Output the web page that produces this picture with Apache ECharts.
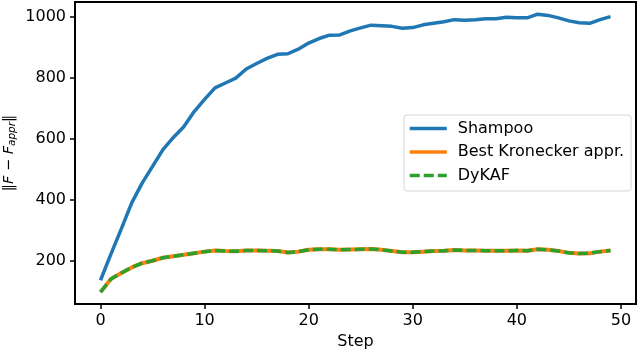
<!DOCTYPE html>
<html>
<head>
<meta charset="utf-8">
<script src="https://cdn.jsdelivr.net/npm/echarts@6/dist/echarts.min.js"></script>
<style>
  html, body { margin: 0; padding: 0; background: #fff; }
  #chart { width: 640px; height: 351px; }
</style>
</head>
<body>
<div id="chart"></div>
<script>
// steps 0..49
var steps = [];
for (var s = 0; s < 50; s++) steps.push(s);

var shampoo = [136, 222, 305, 390, 455, 510, 565, 605, 640, 690,
               730, 768, 784, 800, 830, 848, 865, 878, 880, 895,
               915, 930, 941, 942, 955, 965, 974, 972, 970, 964,
               966, 975, 980, 985, 992, 990, 992, 995, 995, 1000,
               998, 998, 1010, 1006, 998, 988, 982, 980, 992, 1002];

var bestKron = [97, 140, 160, 178, 192, 200, 210, 215, 220, 225,
                230, 234, 232, 231, 234, 234, 233, 232, 227, 230,
                236, 238, 238, 236, 237, 238, 239, 236, 232, 228,
                228, 230, 232, 233, 235, 234, 234, 233, 233, 233,
                234, 233, 238, 236, 232, 226, 224, 225, 230, 234];

var dykaf = [97, 140, 160, 178, 192, 200, 210, 215, 220, 225,
             230, 234, 232, 231, 234, 234, 233, 232, 227, 230,
             236, 238, 238, 236, 237, 238, 239, 236, 232, 228,
             228, 230, 232, 233, 235, 234, 234, 233, 233, 233,
             234, 233, 238, 236, 232, 226, 224, 225, 230, 234];

var xTicks = [0, 10, 20, 30, 40, 50];
var yTicks = [200, 400, 600, 800, 1000];

function pairs(ys) {
    return steps.map(function (x, i) { return [x, ys[i]]; });
}

var myChart = echarts.init(document.getElementById('chart'));
var font = 'DejaVu Sans';
var fs = 16;

var axisCommon = {
    splitLine: { show: false },
    axisLine: { show: true, onZero: false, lineStyle: { color: '#000', width: 2 } },
    axisTick: { show: true, inside: false, length: 5, lineStyle: { color: '#000', width: 1.5 } }
};

var option = {
    animation: false,
    textStyle: { fontFamily: font },
    grid: {
        left: 75, right: 4, top: 2, bottom: 47,
        containLabel: false,
        outerBoundsMode: 'none',
        show: true, borderColor: '#000', borderWidth: 2,
        backgroundColor: '#fff'
    },
    legend: {
        orient: 'vertical',
        left: 404, top: 115,
        itemWidth: 37, itemHeight: 14, itemGap: 4.5,
        padding: [4, 7, 6, 4],
        borderColor: '#d6d6d6', borderWidth: 1, borderRadius: 3,
        backgroundColor: '#fff',
        itemStyle: { opacity: 0 },
        lineStyle: { width: 3.5 },
        textStyle: { fontFamily: font, fontSize: fs, lineHeight: 19, color: '#000', padding: [0, 0, 0, 6] },
        data: ['Shampoo', 'Best Kronecker appr.', 'DyKAF']
    },
    xAxis: Object.assign({}, axisCommon, {
        type: 'value',
        min: -2.45, max: 51.45,
        name: 'Step',
        nameLocation: 'middle',
        nameGap: 29,
        nameTextStyle: { fontFamily: font, fontSize: fs, color: '#000' },
        axisTick: Object.assign({}, axisCommon.axisTick, { customValues: xTicks }),
        axisLabel: { fontFamily: font, fontSize: fs, color: '#000', margin: 9, customValues: xTicks }
    }),
    yAxis: Object.assign({}, axisCommon, {
        type: 'value',
        min: 58, max: 1050,
        name: '‖{i|F} − {i|F}{sub|appr}‖',
        nameLocation: 'middle',
        nameRotate: 90,
        nameGap: 57,
        nameMoveOverlap: false,
        nameTextStyle: {
            fontFamily: font, fontSize: 14.5, color: '#000',
            rich: {
                i: { fontFamily: font, fontSize: 14.5, fontStyle: 'italic', color: '#000' },
                sub: { fontFamily: font, fontSize: 10.5, fontStyle: 'italic', color: '#000', padding: [7, 0, 0, 0] }
            }
        },
        axisTick: Object.assign({}, axisCommon.axisTick, { customValues: yTicks }),
        axisLabel: {
            fontFamily: font, fontSize: fs, color: '#000', margin: 9, customValues: yTicks,
            formatter: function (v) { return String(v); }
        }
    }),
    series: [
        {
            name: 'Shampoo',
            type: 'line',
            symbol: 'none',
            data: pairs(shampoo),
            color: '#1f77b4',
            lineStyle: { width: 3.5, color: '#1f77b4' }
        },
        {
            name: 'Best Kronecker appr.',
            type: 'line',
            symbol: 'none',
            data: pairs(bestKron),
            color: '#ff7f0e',
            lineStyle: { width: 4, color: '#ff7f0e' }
        },
        {
            name: 'DyKAF',
            type: 'line',
            symbol: 'none',
            data: pairs(dykaf),
            color: '#2ca02c',
            lineStyle: { width: 3.5, color: '#2ca02c', type: [10, 4] }
        }
    ]
};

myChart.setOption(option);
window.addEventListener("resize", function () {
    myChart.resize();
});
</script>
</body>
</html>
